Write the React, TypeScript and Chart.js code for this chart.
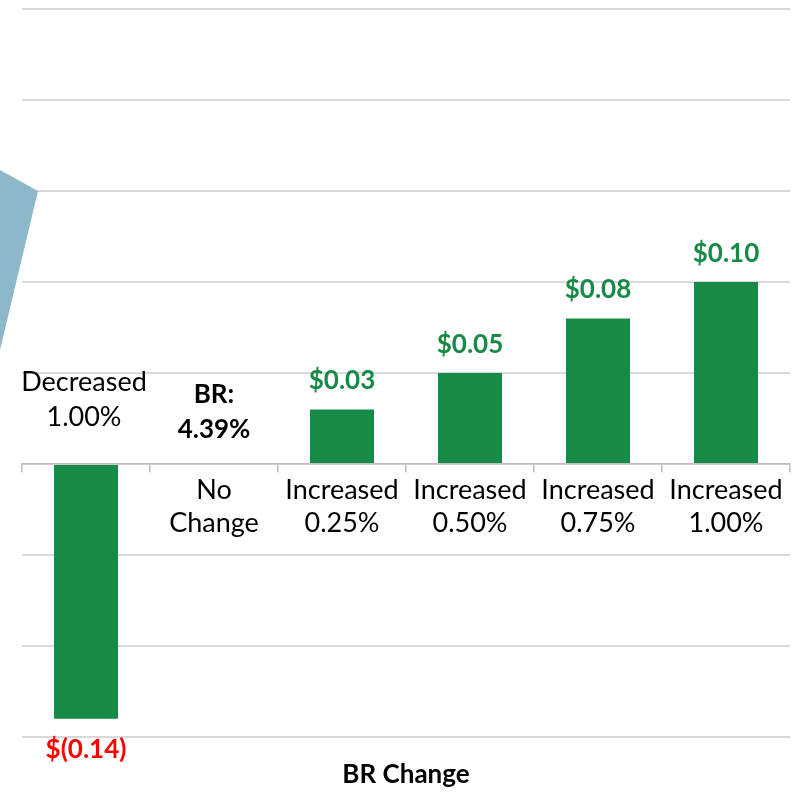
import React, { useEffect, useRef } from 'react';
import { Chart, registerables } from 'chart.js';

Chart.register(...registerables);

// ---- data ----
const categories: string[][] = [
  ['Decreased', '1.00%'],
  ['No', 'Change'],
  ['Increased', '0.25%'],
  ['Increased', '0.50%'],
  ['Increased', '0.75%'],
  ['Increased', '1.00%'],
];
const epsChange: number[] = [-0.14, 0, 0.03, 0.05, 0.08, 0.1];
const baseRateLabel: string[] = ['BR:', '4.39%'];
const axisTitle = 'BR Change';
const yMin = -0.15;
const yMax = 0.25;
const yStep = 0.05;

// ---- styles ----
const FONT = 'Lato, "Open Sans", sans-serif';
const GREEN = '#178A48';
const RED = '#FF0000';
const GRID = '#D9D9D9';
const AXIS = '#BFBFBF';
const SHAPE = '#8DB8CA';

const fmt = (v: number) =>
  v < 0 ? `$(${Math.abs(v).toFixed(2)})` : `$${v.toFixed(2)}`;

const decorPlugin = {
  id: 'decor',
  beforeDatasetsDraw(chart: any) {
    const ctx = chart.ctx as CanvasRenderingContext2D;
    ctx.save();
    ctx.fillStyle = SHAPE;
    ctx.beginPath();
    ctx.moveTo(0, 170);
    ctx.lineTo(38, 191);
    ctx.lineTo(0, 350);
    ctx.closePath();
    ctx.fill();
    ctx.restore();
  },
  afterDatasetsDraw(chart: any) {
    const ctx = chart.ctx as CanvasRenderingContext2D;
    const meta = chart.getDatasetMeta(0);
    const zeroY = chart.scales.y.getPixelForValue(0);
    ctx.save();
    ctx.textAlign = 'center';
    ctx.textBaseline = 'alphabetic';
    meta.data.forEach((bar: any, i: number) => {
      const v = epsChange[i];
      const x = bar.x;
      if (v > 0) {
        ctx.font = `bold 26px ${FONT}`;
        ctx.fillStyle = GREEN;
        ctx.fillText(fmt(v), x, bar.y - 20);
      } else if (v < 0) {
        ctx.font = `bold 26px ${FONT}`;
        ctx.fillStyle = RED;
        ctx.fillText(fmt(v), x, bar.y + 39);
        // category label sits above the axis for negative bars
        ctx.font = `27px ${FONT}`;
        ctx.fillStyle = '#000';
        const lines = categories[i];
        lines.forEach((ln, k) => {
          ctx.fillText(ln, x - 2, zeroY - 38 - (lines.length - 1 - k) * 35);
        });
      } else {
        ctx.font = `bold 26px ${FONT}`;
        ctx.fillStyle = '#000';
        baseRateLabel.forEach((ln, k) => {
          ctx.fillText(ln, x, zeroY - 26 - (baseRateLabel.length - 1 - k) * 35);
        });
      }
    });
    ctx.font = `bold 26px ${FONT}`;
    ctx.fillStyle = '#000';
    ctx.fillText(
      axisTitle,
      (chart.chartArea.left + chart.chartArea.right) / 2,
      chart.height - 10
    );
    ctx.restore();
  },
};

export default function App() {
  const ref = useRef<HTMLCanvasElement | null>(null);

  useEffect(() => {
    if (!ref.current) return;
    const chart = new Chart(ref.current, {
      type: 'bar',
      data: {
        labels: categories,
        datasets: [
          {
            data: epsChange,
            backgroundColor: GREEN,
            barPercentage: 0.5,
            categoryPercentage: 1.0,
          },
        ],
      },
      options: {
        animation: false,
        responsive: false,
        devicePixelRatio: 1,
        layout: { padding: { left: 22, right: 14, top: 9, bottom: 56 } },
        plugins: {
          legend: { display: false },
          tooltip: { enabled: false },
          title: { display: false },
        },
        scales: {
          x: {
            position: { y: 0 } as any,
            offset: true,
            grid: {
              display: true,
              drawOnChartArea: false,
              drawTicks: true,
              tickLength: 8,
              color: AXIS,
              lineWidth: 1.5,
              offset: true,
            },
            border: { display: true, color: AXIS, width: 1.5 },
            ticks: {
              autoSkip: false,
              maxRotation: 0,
              minRotation: 0,
              padding: 1,
              color: '#000',
              font: { family: FONT, size: 27, lineHeight: 1.25 },
              callback: (_val: any, idx: number) =>
                epsChange[idx] < 0 ? '' : categories[idx],
            },
            afterFit: (scale: any) => {
              scale.height = 0;
            },
          },
          y: {
            min: yMin,
            max: yMax,
            ticks: { display: false, stepSize: yStep },
            grid: { color: GRID, lineWidth: 2, drawTicks: false },
            border: { display: false },
          },
        },
      },
      plugins: [decorPlugin],
    } as any);
    return () => chart.destroy();
  }, []);

  return (
    <div style={{ position: 'absolute', left: 0, top: 0, width: 804, height: 793 }}>
      <canvas ref={ref} width={804} height={793} style={{ display: 'block' }} />
    </div>
  );
}
